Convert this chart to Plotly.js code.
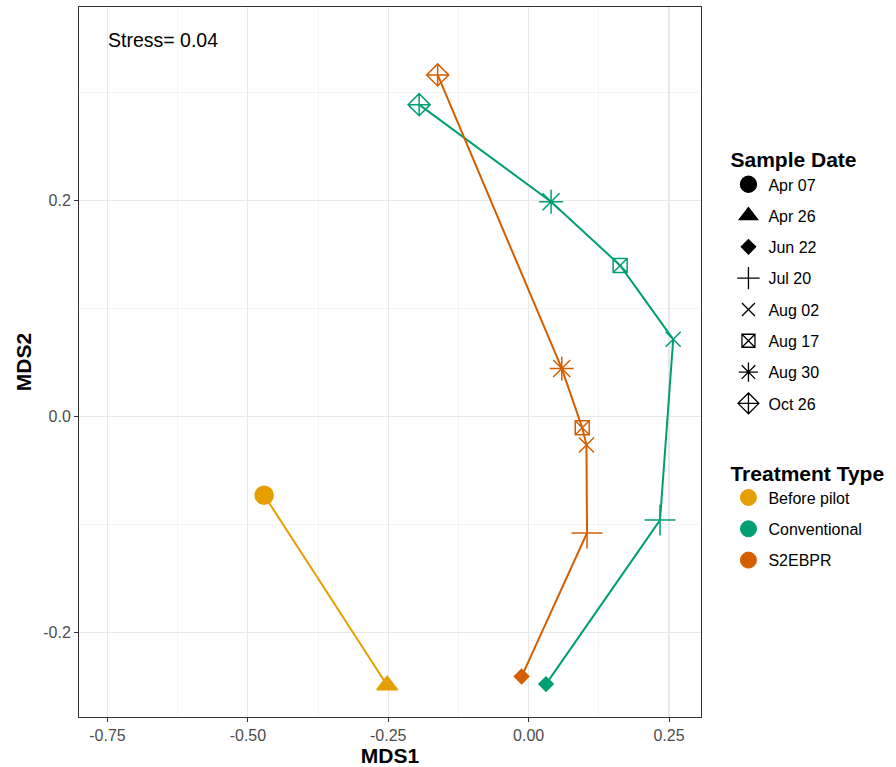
<!DOCTYPE html>
<html>
<head>
<meta charset="utf-8">
<script src="https://cdn.plot.ly/plotly-3.0.1.min.js"></script>
<style>html,body{margin:0;padding:0;background:#fff;}#chart{width:896px;height:767px;}</style>
</head>
<body>
<div id="chart"></div>
<script>
// ---- data ----
const dates = ["Apr 07","Apr 26","Jun 22","Jul 20","Aug 02","Aug 17","Aug 30","Oct 26"];
const treatments = ["Before pilot","Conventional","S2EBPR"];

const beforeDates = ["Apr 07","Apr 26"];
const beforeX = [-0.471, -0.252];
const beforeY = [-0.073, -0.249];

const convDates = ["Jun 22","Jul 20","Aug 02","Aug 17","Aug 30","Oct 26"];
const convX = [0.031, 0.234, 0.2575, 0.163, 0.040, -0.195];
const convY = [-0.248, -0.096, 0.0715, 0.140, 0.199, 0.289];

const s2Dates = ["Jun 22","Jul 20","Aug 02","Aug 17","Aug 30","Oct 26"];
const s2X = [-0.0125, 0.104, 0.103, 0.0955, 0.059, -0.162];
const s2Y = [-0.241, -0.108, -0.0265, -0.0105, 0.0445, 0.3165];

const xTickVals = [-0.75, -0.5, -0.25, 0, 0.25];
const xTickText = ["-0.75","-0.50","-0.25","0.00","0.25"];
const yTickVals = [-0.2, 0, 0.2];
const yTickText = ["-0.2","0.0","0.2"];
const stressText = "Stress= 0.04";

// ---- styles ----
const colors = {"Before pilot":"#E69F00","Conventional":"#009E73","S2EBPR":"#D55E00"};
const symbolOf = {"Apr 07":"circle","Apr 26":"triangle-up","Jun 22":"diamond","Jul 20":"cross-thin-open",
  "Aug 02":"x-thin-open","Aug 17":"square-x-open","Aug 30":"asterisk-open","Oct 26":"diamond-cross-open"};
const sizeOf = {"Apr 07":18,"Apr 26":18,"Jun 22":11,"Jul 20":22,"Aug 02":15,"Aug 17":14,"Aug 30":20,"Oct 26":17};
const legSizeOf = {"Apr 07":16,"Apr 26":16,"Jun 22":11,"Jul 20":16,"Aug 02":13,"Aug 17":13,"Aug 30":16,"Oct 26":16};
const FONT = "Liberation Sans, Arial, sans-serif";

function dataTrace(name, xs, ys, ds) {
  return {
    type: "scatter", mode: "lines+markers", x: xs, y: ys, showlegend: false, hoverinfo: "skip",
    line: {color: colors[name], width: 2},
    marker: {color: colors[name], opacity: 1, symbol: ds.map(d => symbolOf[d]), size: ds.map(d => sizeOf[d]),
             line: {color: colors[name], width: 1.5}}
  };
}

const traces = [
  dataTrace("Before pilot", beforeX, beforeY, beforeDates),
  dataTrace("Conventional", convX, convY, convDates),
  dataTrace("S2EBPR", s2X, s2Y, s2Dates)
];

dates.forEach((d) => {
  traces.push({type:"scatter", mode:"markers", x:[null], y:[null], name:d, legend:"legend",
    legendgroup:"d_"+d, showlegend:true,
    marker:{color:"#000", opacity:1, symbol:symbolOf[d], size:legSizeOf[d], line:{color:"#000", width:1.3}}});
});
treatments.forEach((t) => {
  traces.push({type:"scatter", mode:"markers", x:[null], y:[null], name:t, legend:"legend2",
    legendgroup:"t_"+t, showlegend:true,
    marker:{color:colors[t], opacity:1, symbol:"circle", size:16, line:{color:colors[t], width:1}}});
});

const axisCommon = {
  showgrid: true, gridcolor: "#e8e8e8", gridwidth: 1.1, zeroline: false,
  showline: true, mirror: true, linecolor: "#333333", linewidth: 1,
  ticks: "outside", ticklen: 4, tickcolor: "#333333", tickwidth: 1,
  tickfont: {family: FONT, size: 16, color: "#4d4d4d"}
};

const layout = {
  width: 896, height: 767,
  margin: {l: 79, r: 195, t: 7, b: 50},
  paper_bgcolor: "#fff", plot_bgcolor: "#fff",
  font: {family: FONT, color: "#000"},
  xaxis: Object.assign({}, axisCommon, {
    range: [-0.8008, 0.307], tickmode: "array", tickvals: xTickVals, ticktext: xTickText,
    minor: {dtick: 0.125, tick0: 0, showgrid: true, gridcolor: "#f0f0f0", gridwidth: 0.7, ticks: ""},
    title: {text: "<b>MDS1</b>", font: {family: FONT, size: 21, color: "#000"}, standoff: 2}
  }),
  yaxis: Object.assign({}, axisCommon, {
    range: [-0.2785, 0.3795], tickmode: "array", tickvals: yTickVals, ticktext: yTickText,
    minor: {dtick: 0.1, tick0: 0, showgrid: true, gridcolor: "#f0f0f0", gridwidth: 0.7, ticks: ""},
    title: {text: "<b>MDS2</b>", font: {family: FONT, size: 21, color: "#000"}, standoff: 5}
  }),
  legend: {
    xref: "container", yref: "container", x: 0.813, y: 0.8174, xanchor: "left", yanchor: "top",
    traceorder: "grouped", tracegroupgap: 7.5, itemsizing: "trace",
    title: {text: "<b>Sample Date</b>", font: {family: FONT, size: 21, color: "#000"}},
    font: {family: FONT, size: 16, color: "#000"}, bgcolor: "rgba(0,0,0,0)"
  },
  legend2: {
    xref: "container", yref: "container", x: 0.813, y: 0.409, xanchor: "left", yanchor: "top",
    traceorder: "grouped", tracegroupgap: 7.5, itemsizing: "trace",
    title: {text: "<b>Treatment Type</b>", font: {family: FONT, size: 21, color: "#000"}},
    font: {family: FONT, size: 16, color: "#000"}, bgcolor: "rgba(0,0,0,0)"
  },
  annotations: [{
    text: stressText, xref: "paper", yref: "paper", x: 0.044, y: 0.9535, xanchor: "left", yanchor: "middle",
    showarrow: false, font: {family: FONT, size: 19.5, color: "#000"}
  }],
  showlegend: true
};

Plotly.newPlot("chart", traces, layout, {displayModeBar: false, staticPlot: true});
</script>
</body>
</html>
